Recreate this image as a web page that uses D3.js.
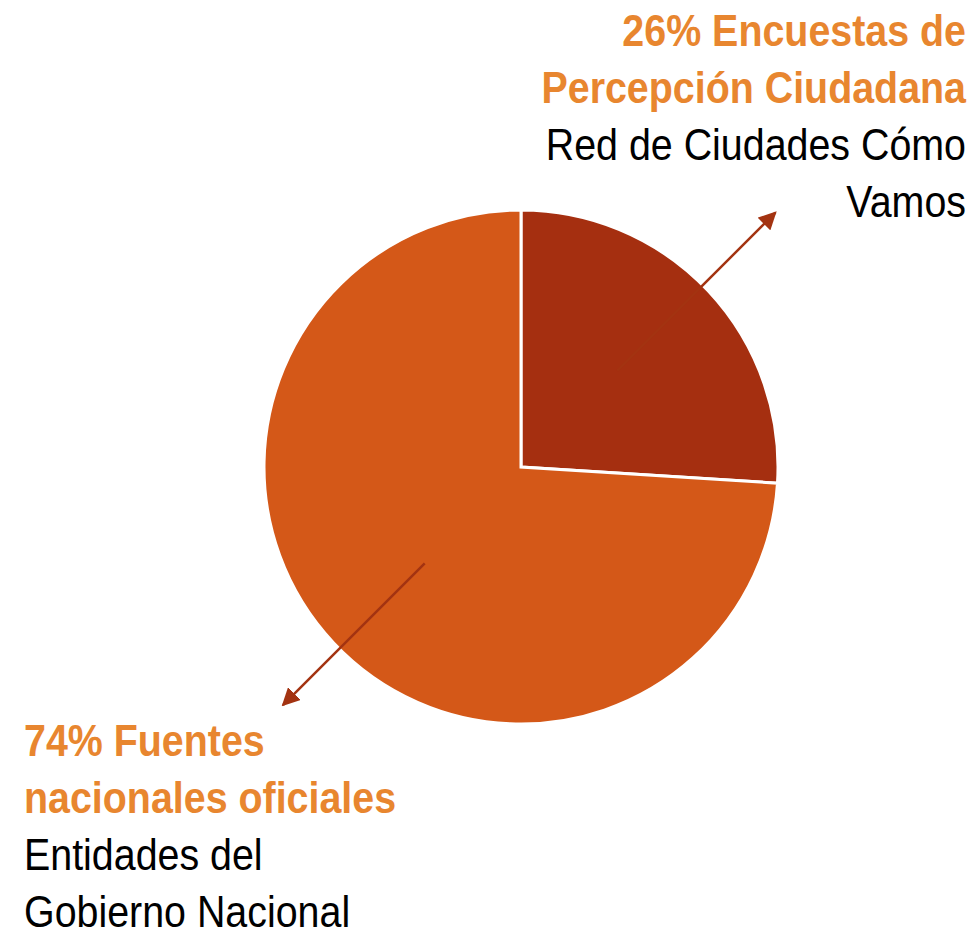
<!DOCTYPE html>
<html><head><meta charset="utf-8">
<script src="https://cdn.jsdelivr.net/npm/d3@7"></script>
<style>html,body{margin:0;padding:0;background:#fff;}</style>
</head><body>
<script>
const categories = ["Encuestas de Percepción Ciudadana", "Fuentes nacionales oficiales"];
const values = [26, 74];
const sources = ["Red de Ciudades Cómo Vamos", "Entidades del Gobierno Nacional"];
const titleLines = [["26% Encuestas de", "Percepción Ciudadana"], ["74% Fuentes", "nacionales oficiales"]];
const sourceLines = [["Red de Ciudades Cómo", "Vamos"], ["Entidades del", "Gobierno Nacional"]];
const colors = ["#A52F10", "#D45818"];

const W = 976, H = 930;
const cx = 521, cy = 467, R = 257;
const svg = d3.select("body").append("svg").attr("width", W).attr("height", H);
svg.append("defs").append("marker").attr("id","ah").attr("viewBox","0 0 10 10")
  .attr("refX",9).attr("refY",5).attr("markerWidth",18).attr("markerHeight",18)
  .attr("markerUnits","userSpaceOnUse").attr("orient","auto")
  .append("path").attr("d","M0,0L10,5L0,10z").attr("fill","#A33311");

const pie = d3.pie().sort(null).value(d => d);
const arc = d3.arc().innerRadius(0).outerRadius(R);
const g = svg.append("g").attr("transform", `translate(${cx},${cy})`);
g.selectAll("path").data(pie(values)).join("path")
  .attr("d", arc).attr("fill", (d,i) => colors[i])
  .attr("stroke", "#fff").attr("stroke-width", 3).attr("stroke-linejoin","miter");

// arrows (polar, relative to pie)
const arrows = [{ang: 45, r0: 0.53, r1: 1.40}, {ang: 225, r0: 0.53, r1: 1.31}];
arrows.forEach(a => {
  const t = a.ang * Math.PI / 180;
  g.append("line")
    .attr("x1", Math.sin(t)*R*a.r0).attr("y1", -Math.cos(t)*R*a.r0)
    .attr("x2", Math.sin(t)*R*a.r1).attr("y2", -Math.cos(t)*R*a.r1)
    .attr("stroke", "#A33311").attr("stroke-width", 2.5).attr("marker-end","url(#ah)");
});

const font = "'Liberation Sans', Arial, sans-serif";
const fs = 44, lh = 57, sx = 0.895;
// top-right label
const tr = svg.append("text").attr("font-family", font).attr("font-size", fs).attr("text-anchor","end")
  .attr("transform", `translate(966,0) scale(${sx},1)`);
titleLines[0].forEach((t,i) => tr.append("tspan").attr("x",0).attr("y",46 + i*lh)
  .attr("font-weight","bold").attr("fill","#E8862F").text(t));
sourceLines[0].forEach((t,i) => tr.append("tspan").attr("x",0).attr("y",46 + (i+2)*lh)
  .attr("fill","#000").text(t));
// bottom-left label
const bl = svg.append("text").attr("font-family", font).attr("font-size", fs).attr("text-anchor","start")
  .attr("transform", `translate(24,0) scale(${sx},1)`);
titleLines[1].forEach((t,i) => bl.append("tspan").attr("x",0).attr("y",756 + i*lh)
  .attr("font-weight","bold").attr("fill","#E8862F").text(t));
sourceLines[1].forEach((t,i) => bl.append("tspan").attr("x",0).attr("y",756 + (i+2)*lh)
  .attr("fill","#000").text(t));
</script>
</body></html>
